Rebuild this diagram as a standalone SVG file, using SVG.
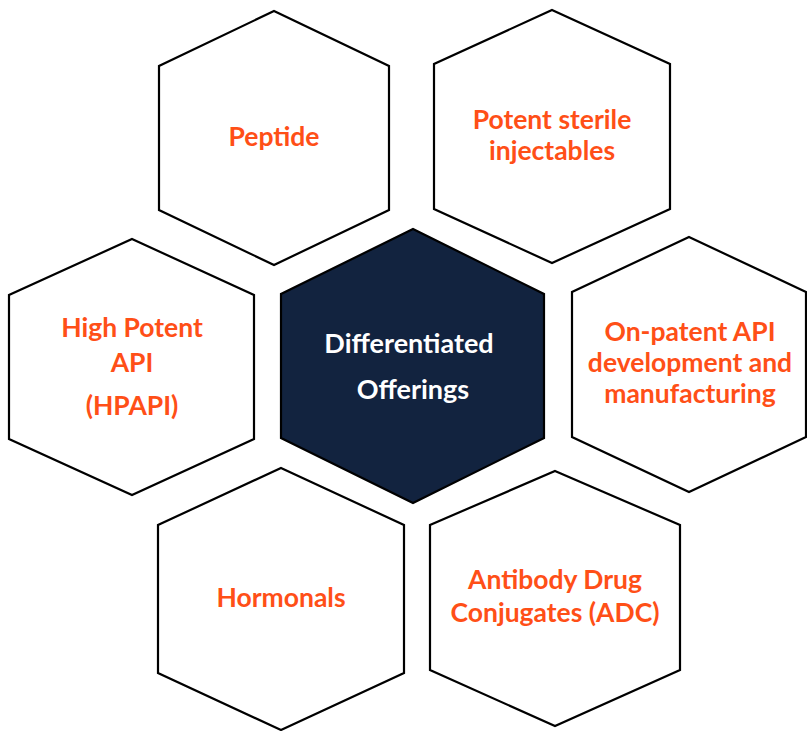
<svg xmlns="http://www.w3.org/2000/svg" width="807" height="731" viewBox="0 0 807 731">
  <style>
    .hex { fill: #ffffff; stroke: #000000; stroke-width: 2.2; stroke-linejoin: miter; }
    .core { fill: #12233f; stroke: #000000; stroke-width: 2.2; }
    .lbl { font-family: Lato, "Open Sans", "Liberation Sans", sans-serif; font-weight: 700; font-size: 26.5px; fill: #ff4f17; text-anchor: middle; }
    .lbl-core { font-family: Lato, "Open Sans", "Liberation Sans", sans-serif; font-weight: 700; font-size: 27px; fill: #ffffff; text-anchor: middle; }
  </style>
  <rect width="807" height="731" fill="#ffffff"/>

  <g id="peptide">
    <polygon class="hex" points="274,11 389,66 389,210 274,265 159,210 159,66"/>
    <text class="lbl" x="274" y="146">Peptide</text>
  </g>

  <g id="potent-sterile-injectables">
    <polygon class="hex" points="552,10 670,64 670,209 552,263 434,209 434,64"/>
    <text class="lbl" x="552" y="129">Potent sterile</text>
    <text class="lbl" x="552" y="160">injectables</text>
  </g>

  <g id="high-potent-api">
    <polygon class="hex" points="132,239 254,295 254,439 132,495 9,439 9,295"/>
    <text class="lbl" x="132" y="337">High Potent</text>
    <text class="lbl" x="132" y="372">API</text>
    <text class="lbl" x="132" y="415">(HPAPI)</text>
  </g>

  <g id="differentiated-offerings">
    <polygon class="core" points="413,229 544,294 544,438 413,503 281,438 281,294"/>
    <text class="lbl-core" x="409" y="353">Differentiated</text>
    <text class="lbl-core" x="413" y="399">Offerings</text>
  </g>

  <g id="on-patent-api">
    <polygon class="hex" points="689,237 806,292 806,437 689,492 572,437 572,292"/>
    <text class="lbl" x="690" y="341">On-patent API</text>
    <text class="lbl" x="690" y="372">development and</text>
    <text class="lbl" x="690" y="403">manufacturing</text>
  </g>

  <g id="hormonals">
    <polygon class="hex" points="281,468 404,525 404,673 281,730 158,673 158,525"/>
    <text class="lbl" x="281" y="607">Hormonals</text>
  </g>

  <g id="antibody-drug-conjugates">
    <polygon class="hex" points="555,471 680,525 680,670 555,726 430,670 430,525"/>
    <text class="lbl" x="555" y="589">Antibody Drug</text>
    <text class="lbl" x="555" y="622">Conjugates (ADC)</text>
  </g>
</svg>
